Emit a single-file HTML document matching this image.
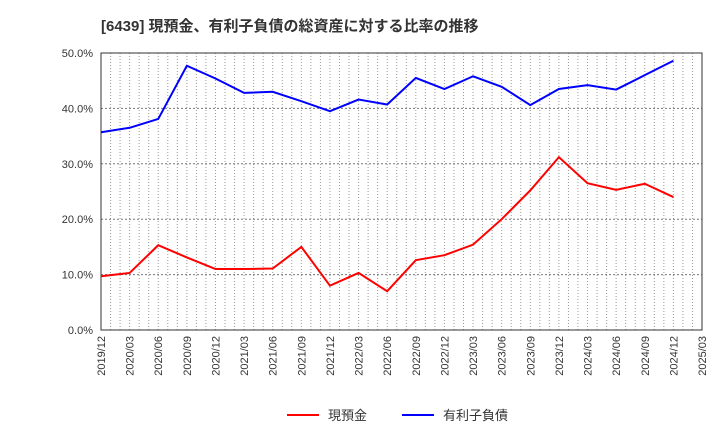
<!DOCTYPE html>
<html><head><meta charset="utf-8"><style>
body{margin:0;background:#fff;font-family:"Liberation Sans","Noto Sans CJK JP",sans-serif;}
svg text{font-family:"Liberation Sans","Noto Sans CJK JP",sans-serif;}
</style></head><body>
<svg id="c" width="720" height="440" xmlns="http://www.w3.org/2000/svg">
<text x="101" y="31" font-size="15" font-weight="bold" fill="#333">[6439]  現預金、有利子負債の総資産に対する比率の推移</text>
<g id="grid"></g><g id="axes"></g><g id="series"></g>
<g>
<line x1="287" y1="415" x2="319" y2="415" stroke="#f00" stroke-width="2"/>
<text x="328" y="420" font-size="13" fill="#333">現預金</text>
<line x1="402" y1="415" x2="434" y2="415" stroke="#00f" stroke-width="2"/>
<text x="443" y="420" font-size="13" fill="#333">有利子負債</text>
</g>
</svg>
<script>
const categories=["2019/12","2020/03","2020/06","2020/09","2020/12","2021/03","2021/06","2021/09","2021/12","2022/03","2022/06","2022/09","2022/12","2023/03","2023/06","2023/09","2023/12","2024/03","2024/06","2024/09","2024/12","2025/03"];
const cashValues=[9.7,10.3,15.3,13.1,11.0,11.0,11.1,15.0,8.0,10.3,7.0,12.6,13.5,15.4,20.0,25.2,31.2,26.5,25.3,26.4,24.0];
const debtValues=[35.7,36.5,38.1,47.7,45.4,42.8,43.0,41.3,39.5,41.6,40.7,45.5,43.5,45.8,43.9,40.6,43.5,44.2,43.4,46.0,48.6];
const yTicks=[0,10,20,30,40,50];
const yTickLabels=["0.0%","10.0%","20.0%","30.0%","40.0%","50.0%"];
const X0=101,X1=702,Y0=330,Y1=53;
const xs=i=>X0+(X1-X0)*i/(categories.length-1);
const ys=v=>Y0-(Y0-Y1)*v/50;
const NS="http://www.w3.org/2000/svg";
function mk(t,a,p){const e=document.createElementNS(NS,t);for(const k in a)e.setAttribute(k,a[k]);p.appendChild(e);return e;}
const grid=document.getElementById('grid'),axes=document.getElementById('axes'),ser=document.getElementById('series');
for(let m=1;m<(categories.length-1)*3;m++){const x=X0+(X1-X0)*m/((categories.length-1)*3);
const l=mk('line',{x1:x,y1:Y1,x2:x,y2:Y0,stroke:'#999','stroke-dasharray':'1,2','stroke-width':1},grid);

}
yTicks.forEach((v,i)=>{const y=ys(v);
if(v>0&&v<50){const g=mk('line',{x1:X0,y1:y,x2:X1,y2:y,stroke:'#777','stroke-dasharray':'2,2'},grid);

}
const t=mk('text',{x:X0-8,y:y+4,'font-size':11,'text-anchor':'end',fill:'#333'},axes);t.textContent=yTickLabels[i];

});
categories.forEach((c,i)=>{const x=xs(i);
const t=mk('text',{transform:`translate(${x+4},${Y0+6}) rotate(-90)`,'font-size':11,'text-anchor':'end',fill:'#333'},axes);t.textContent=c;

});
const fr=mk('rect',{x:X0,y:Y1,width:X1-X0,height:Y0-Y1,fill:'none',stroke:'#333'},axes);


function line(vals,col,name){const p=mk('polyline',{points:vals.map((v,i)=>xs(i)+','+ys(v)).join(' '),fill:'none',stroke:col,'stroke-width':2},ser);

}
line(cashValues,'#f00','cash-line');
line(debtValues,'#00f','debt-line');
</script>
</body></html>
